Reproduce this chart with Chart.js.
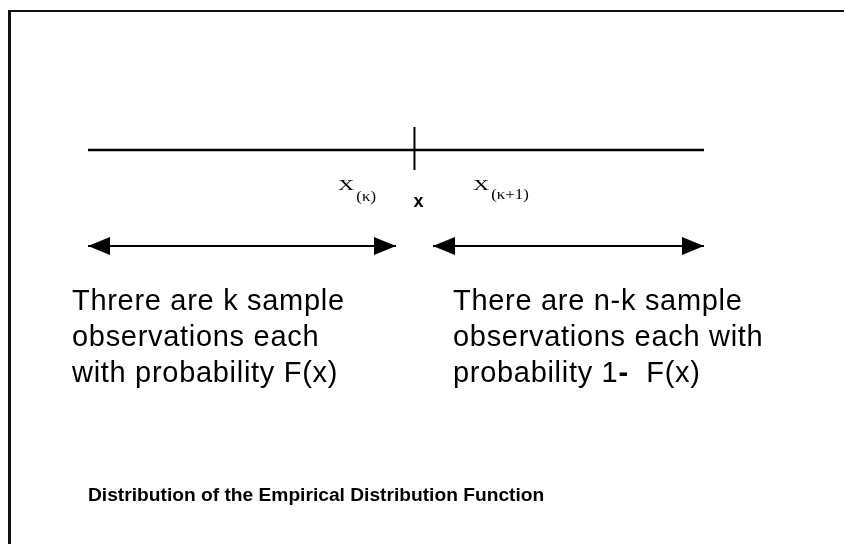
<!DOCTYPE html>
<html><head><meta charset="utf-8">
<script src="https://cdn.jsdelivr.net/npm/chart.js@4"></script>
<style>html,body{margin:0;padding:0;background:#fff;}canvas{display:block;}</style>
</head><body>
<canvas id="c" width="844" height="544"></canvas>
<script>
// ---------------- data ----------------
const numberLine   = [0, 10];      // extent of the real line
const xPoint       = 5.3;          // the point x
const leftRange    = [0, 5.0];     // the k observations below x
const rightRange   = [5.6, 10];    // the n-k observations above x
const orderStatPos = [4.06, 6.25]; // X(k), X(k+1)
const orderStatSym = ['X', 'X'];
const orderStatSub = ['(\u03ba)', '(\u03ba+1)'];
const pointLabel   = 'x';
const leftText     = ['Threre are k sample', 'observations each', 'with probability F(x)'];
const rightText    = ['There are n-k sample', 'observations each with', 'probability 1-  F(x)'];
const captionText  = 'Distribution of the Empirical Distribution Function';
const textAnchors  = [-0.26, 5.925, 0]; // left block, right block, caption (x units)

// ---------------- layout rows (y scale) ----------------
const R = { line:150, tickTop:127, tickBottom:170, arrow:246, symBase:190, subBase:[201,199],
            xBase:207, text:[310,346,382], caption:501 };

// arrowhead as a point style (tip at the point)
const head = document.createElement('canvas');
head.width = 44; head.height = 18;
(function(){ const g = head.getContext('2d'); g.fillStyle = '#000';
  g.beginPath(); g.moveTo(0,0); g.lineTo(22,9); g.lineTo(0,18); g.closePath(); g.fill(); })();

const seg = (a, b, y) => [{x:a, y:y}, {x:b, y:y}];

const textPlugin = {
  id: 'diagramText',
  beforeDraw(chart) {
    const c = chart.ctx;
    c.save(); c.fillStyle = '#111';
    c.fillRect(8, 10, 3, 534);
    c.fillRect(8, 10, 836, 2);
    c.restore();
  },
  afterDatasetsDraw(chart) {
    const c = chart.ctx, sx = chart.scales.x, sy = chart.scales.y;
    c.save();
    c.fillStyle = '#000';
    c.textBaseline = 'alphabetic';
    c.textAlign = 'left';
    // order statistic labels
    orderStatPos.forEach((p, i) => {
      const px = sx.getPixelForValue(p);
      c.save();
      c.translate(px, sy.getPixelForValue(R.symBase));
      c.scale(1.5, 1);
      c.font = '15px "Liberation Serif"';
      c.fillText(orderStatSym[i], 0, 0);
      const w = c.measureText(orderStatSym[i]).width * 1.5;
      c.restore();
      c.font = '14px "Liberation Serif"';
      c.save();
      c.translate(px + w + 2, sy.getPixelForValue(R.subBase[i]));
      c.scale(1.2, 1);
      c.fillText(orderStatSub[i], 0, 0);
      c.restore();
    });
    // point label
    c.font = 'bold 18px "Liberation Sans"';
    c.textAlign = 'center';
    c.fillText(pointLabel, sx.getPixelForValue(xPoint) + 4, sy.getPixelForValue(R.xBase));
    c.textAlign = 'left';
    // text blocks
    c.font = '29px "Liberation Sans"';
    try { c.letterSpacing = '0.7px'; } catch(e) {}
    const lx = sx.getPixelForValue(textAnchors[0]);
    leftText.forEach((t, i) => c.fillText(t, lx, sy.getPixelForValue(R.text[i])));
    const rx = sx.getPixelForValue(textAnchors[1]);
    rightText.forEach((t, i) => {
      const y = sy.getPixelForValue(R.text[i]);
      const k = t.indexOf('1-');
      if (k < 0) { c.fillText(t, rx, y); return; }
      const a = t.slice(0, k + 1), b = '-', d = t.slice(k + 2);
      c.font = '29px "Liberation Sans"';
      c.fillText(a, rx, y);
      let x = rx + c.measureText(a).width;
      c.font = 'bold 29px "Liberation Sans"';
      c.fillText(b, x, y);
      x += c.measureText(b).width;
      c.font = '29px "Liberation Sans"';
      c.fillText(d, x, y);
    });
    try { c.letterSpacing = '0px'; } catch(e) {}
    // caption
    c.font = 'bold 19.2px "Liberation Sans"';
    c.fillText(captionText, sx.getPixelForValue(textAnchors[2]), sy.getPixelForValue(R.caption));
    c.restore();
  }
};

const base = { showLine:true, borderColor:'#000', backgroundColor:'#000', pointRadius:0, fill:false, tension:0 };

new Chart(document.getElementById('c'), {
  type: 'scatter',
  data: { datasets: [
    Object.assign({}, base, { label:'line', data: seg(numberLine[0], numberLine[1], R.line), borderWidth:2.5 }),
    Object.assign({}, base, { label:'x', data: [{x:xPoint, y:R.tickTop}, {x:xPoint, y:R.tickBottom}], borderWidth:2 }),
    Object.assign({}, base, { label:'left', data: seg(leftRange[0], leftRange[1], R.arrow), borderWidth:2.2,
      pointRadius:11, pointStyle:head, pointRotation:[180, 0] }),
    Object.assign({}, base, { label:'right', data: seg(rightRange[0], rightRange[1], R.arrow), borderWidth:2.2,
      pointRadius:11, pointStyle:head, pointRotation:[180, 0] })
  ]},
  options: {
    responsive:false, animation:false, events:[],
    layout:{ padding:0, autoPadding:false },
    plugins:{ legend:{display:false}, tooltip:{enabled:false}, title:{display:false} },
    scales:{
      x:{ type:'linear', display:false, min:-88/61.6, max:(844-88)/61.6 },
      y:{ type:'linear', display:false, min:0, max:544, reverse:true }
    }
  },
  plugins:[textPlugin]
});
</script>
</body></html>
